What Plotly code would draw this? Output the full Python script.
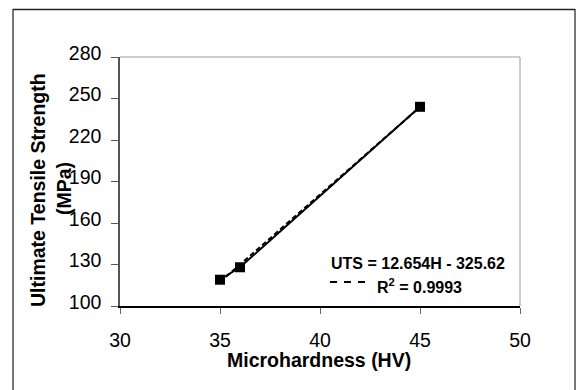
import plotly.graph_objects as go

# Data
hardness = [35, 36, 45]
uts = [119, 128, 244]
trend_x = [35, 45]
trend_y = [117.3, 243.8]
x_ticks = [30, 35, 40, 45, 50]
y_ticks = [100, 130, 160, 190, 220, 250, 280]
eq_text = "UTS = 12.654H - 325.62"
r2_text = "R<sup>2</sup> = 0.9993"

W, H = 577, 390
L, R, T, B = 120, 57, 57, 84
PW, PH = W - L - R, H - T - B
FONT = "Liberation Sans, Arial, sans-serif"


def px(x):
    return (x - L) / PW


def py(y):
    return (H - B - y) / PH


fig = go.Figure()

fig.add_trace(go.Scatter(
    x=trend_x, y=trend_y, mode="lines",
    line=dict(color="black", width=2, dash="5px,3px"),
    showlegend=False, hoverinfo="skip"))

fig.add_trace(go.Scatter(
    x=hardness, y=uts, mode="lines+markers",
    line=dict(color="black", width=2),
    marker=dict(symbol="square", size=10, color="black"),
    showlegend=False))

shapes = [
    # plot area border (gray top/right)
    dict(type="line", xref="paper", yref="paper", x0=0, x1=1, y0=1, y1=1,
         line=dict(color="#9a9a9a", width=1)),
    dict(type="line", xref="paper", yref="paper", x0=1, x1=1, y0=0, y1=1,
         line=dict(color="#9a9a9a", width=1)),
    # outer chart border
    dict(type="line", xref="paper", yref="paper", x0=px(13), x1=px(13), y0=py(9), y1=py(400),
         line=dict(color="#777777", width=2)),
    dict(type="line", xref="paper", yref="paper", x0=px(575), x1=px(575), y0=py(9), y1=py(400),
         line=dict(color="#777777", width=2)),
    dict(type="line", xref="paper", yref="paper", x0=px(13), x1=px(575), y0=py(9.5), y1=py(9.5),
         line=dict(color="#222222", width=1.5)),
    # legend dash sample for trendline
    dict(type="line", xref="paper", yref="paper", x0=px(330), x1=px(367), y0=py(282), y1=py(282),
         line=dict(color="black", width=2, dash="7px,7px")),
]

annotations = [
    dict(text="<b>" + eq_text + "</b>", xref="paper", yref="paper", x=px(329), y=py(263),
         xanchor="left", yanchor="middle", showarrow=False,
         font=dict(family=FONT, size=16, color="black")),
    dict(text="<b>" + r2_text + "</b>", xref="paper", yref="paper", x=px(375), y=py(286),
         xanchor="left", yanchor="middle", showarrow=False,
         font=dict(family=FONT, size=16, color="black")),
    dict(text="<b>Microhardness (HV)</b>", xref="paper", yref="paper", x=px(319), y=py(360),
         xanchor="center", yanchor="middle", showarrow=False,
         font=dict(family=FONT, size=19.5, color="black")),
    dict(text="<b>Ultimate Tensile Strength</b>", xref="paper", yref="paper", x=px(38), y=py(190),
         xanchor="center", yanchor="middle", showarrow=False, textangle=-90,
         font=dict(family=FONT, size=19.5, color="black")),
    dict(text="<b>(MPa)</b>", xref="paper", yref="paper", x=px(64), y=py(188),
         xanchor="center", yanchor="middle", showarrow=False, textangle=-90,
         font=dict(family=FONT, size=19.5, color="black")),
]

fig.update_layout(
    width=W, height=H,
    margin=dict(l=L, r=R, t=T, b=B, autoexpand=False),
    paper_bgcolor="white", plot_bgcolor="white",
    font=dict(family=FONT, color="black"),
    shapes=shapes, annotations=annotations,
    xaxis=dict(range=[30, 50], tickvals=x_ticks, ticktext=[str(v) for v in x_ticks],
               showgrid=False, zeroline=False, showline=True, linecolor="black", linewidth=1.5,
               ticks="outside", ticklen=6, tickcolor="#666666", tickwidth=1,
               tickfont=dict(family=FONT, size=19.5, color="black"), ticklabelstandoff=10),
    yaxis=dict(range=[100, 280], tickvals=y_ticks, ticktext=[str(v) for v in y_ticks],
               showgrid=False, zeroline=False, showline=True, linecolor="#555555", linewidth=1.5,
               ticks="outside", ticklen=7, tickcolor="#555555", tickwidth=1,
               tickfont=dict(family=FONT, size=19.5, color="black"), ticklabelstandoff=6,
               ticklabelshift=-4),
)

fig.write_html("out.html")
